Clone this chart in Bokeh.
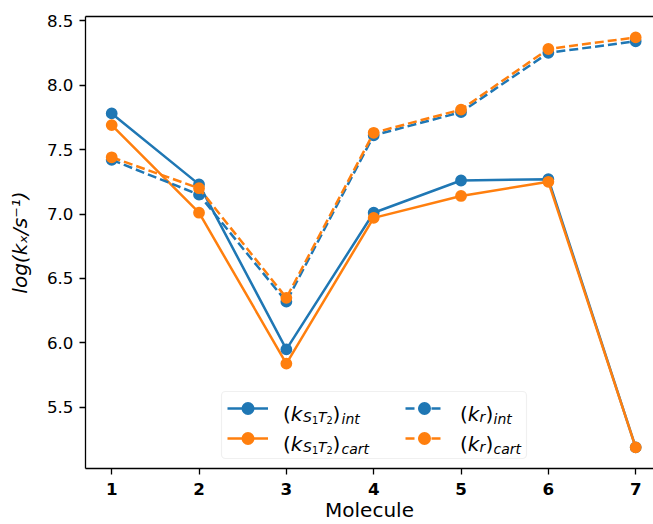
from bokeh.plotting import figure
from bokeh.models import (Range1d, FixedTicker, Legend, LegendItem, Label,
                          BoxAnnotation, NumeralTickFormatter, LinearAxis)
from bokeh.embed import file_html
from bokeh.resources import INLINE

# ---- data -------------------------------------------------------------
molecules   = [1, 2, 3, 4, 5, 6, 7]
k_s1t2_int  = [7.78, 7.23, 5.95, 7.01, 7.26, 7.27, 5.19]
k_s1t2_cart = [7.69, 7.01, 5.84, 6.97, 7.14, 7.25, 5.19]
k_r_int     = [7.42, 7.15, 6.32, 7.61, 7.79, 8.25, 8.34]
k_r_cart    = [7.44, 7.20, 6.35, 7.63, 7.81, 8.28, 8.37]
x_ticks = [1, 2, 3, 4, 5, 6, 7]
y_ticks = [5.5, 6.0, 6.5, 7.0, 7.5, 8.0, 8.5]
x_label = "Molecule"
y_label = "log(kₓ/s⁻¹)"

BLUE = "#1f77b4"
ORANGE = "#ff7f0e"
FONT = "DejaVu Sans"

p = figure(width=653, height=524,
           x_range=Range1d(0.7, 7.204), y_range=Range1d(5.026, 8.532),
           output_backend="svg", toolbar_location=None,
           min_border_left=85, min_border_right=0,
           min_border_top=16, min_border_bottom=56)

p.xgrid.visible = False
p.ygrid.visible = False
p.outline_line_color = None
p.background_fill_color = "white"
p.border_fill_color = "white"

# top spine (the right spine lies outside the picture in the reference)
top_axis = LinearAxis(ticker=FixedTicker(ticks=[]), major_label_text_font_size="0px",
                      axis_line_color="black", axis_line_width=1.3,
                      major_tick_out=0, major_tick_in=0, minor_tick_out=0, minor_tick_in=0,
                      major_label_standoff=0)
p.add_layout(top_axis, "above")

xax = p.below[0]
yax = p.left[0]
for ax in (xax, yax):
    ax.axis_line_color = "black"
    ax.axis_line_width = 1.3
    ax.major_tick_line_color = "black"
    ax.major_tick_line_width = 1.3
    ax.major_tick_out = 6
    ax.major_tick_in = 0
    ax.minor_tick_out = 0
    ax.minor_tick_in = 0
    ax.major_label_text_font = FONT
    ax.major_label_text_font_size = "16.7px"
    ax.major_label_text_color = "black"
    ax.axis_label_text_font = FONT
    ax.axis_label_text_font_size = "20px"
    ax.axis_label_text_color = "black"

xax.ticker = FixedTicker(ticks=x_ticks)
yax.ticker = FixedTicker(ticks=y_ticks)
yax.formatter = NumeralTickFormatter(format="0.0")
xax.major_label_text_font_style = "bold"
xax.major_label_standoff = 8
yax.major_label_standoff = 6
xax.axis_label = x_label
xax.axis_label_standoff = 0
xax.axis_label_text_font_style = "normal"
yax.axis_label = y_label
yax.axis_label_standoff = 12
yax.axis_label_text_font_style = "italic"

# ---- series -----------------------------------------------------------
series = [
    (k_s1t2_int, BLUE, "solid"),
    (k_s1t2_cart, ORANGE, "solid"),
    (k_r_int, BLUE, "9 4"),
    (k_r_cart, ORANGE, "9 4"),
]
rends = []
for vals, col, dash in series:
    ln = p.line(molecules, vals, line_color=col, line_width=2.5, line_dash=dash)
    sc = p.scatter(molecules, vals, size=10, fill_color=col, line_color=col,
                   line_width=1.8)
    rends.append((ln, sc))

# ---- legend -----------------------------------------------------------
FX, FY = 85, 468  # frame left / bottom in page pixels (for screen offsets)

box = BoxAnnotation(left=221 - FX, right=526 - FX, top=FY - 391, bottom=FY - 458,
                    left_units="screen", right_units="screen",
                    top_units="screen", bottom_units="screen",
                    fill_color="white", fill_alpha=0.8,
                    line_color="#cccccc", line_width=1.2, border_radius=4)
p.add_layout(box)

def make_legend(items, x, gw):
    return Legend(items=items, location=(x, 16), padding=0, margin=0,
                  spacing=2, glyph_width=gw, glyph_height=28,
                  label_width=0, label_height=28, label_standoff=0,
                  label_text_font_size="1px",
                  border_line_alpha=0, background_fill_alpha=0)

leg1 = make_legend([LegendItem(label=" ", renderers=list(rends[0])),
                    LegendItem(label=" ", renderers=list(rends[1]))], 227 - FX, 41)
leg2 = make_legend([LegendItem(label=" ", renderers=list(rends[2])),
                    LegendItem(label=" ", renderers=list(rends[3]))], 405 - FX, 38)
p.add_layout(leg1)
p.add_layout(leg2)

def piece(text, X, Y, size, italic):
    p.add_layout(Label(x=X - FX, y=FY - Y, x_units="screen", y_units="screen",
                       text=text, text_font=FONT, text_font_size=f"{size}px",
                       text_font_style="italic" if italic else "normal",
                       text_baseline="alphabetic", text_align="left",
                       text_color="black"))

def label_ks1t2(X0, B, sub):
    piece("(", X0, B, 20, False)
    piece("k", X0 + 7.8, B, 20, True)
    piece("S", X0 + 20, B + 3.5, 14, True)
    piece("1", X0 + 29, B + 6.5, 9.8, False)
    piece("T", X0 + 35, B + 3.5, 14, True)
    piece("2", X0 + 43.5, B + 6.5, 9.8, False)
    piece(")", X0 + 49.5, B, 20, False)
    piece(sub, X0 + 58.5, B + 5, 14, True)

def label_kr(X0, B, sub):
    piece("(", X0, B, 20, False)
    piece("k", X0 + 7.8, B, 20, True)
    piece("r", X0 + 19.6, B + 3.5, 14, True)
    piece(")", X0 + 25.5, B, 20, False)
    piece(sub, X0 + 33.5, B + 5, 14, True)

label_ks1t2(282.5, 413, "int")
label_ks1t2(282.5, 443, "cart")
label_kr(459.5, 413, "int")
label_kr(459.5, 443, "cart")

open("out.html", "w").write(file_html(p, INLINE))
